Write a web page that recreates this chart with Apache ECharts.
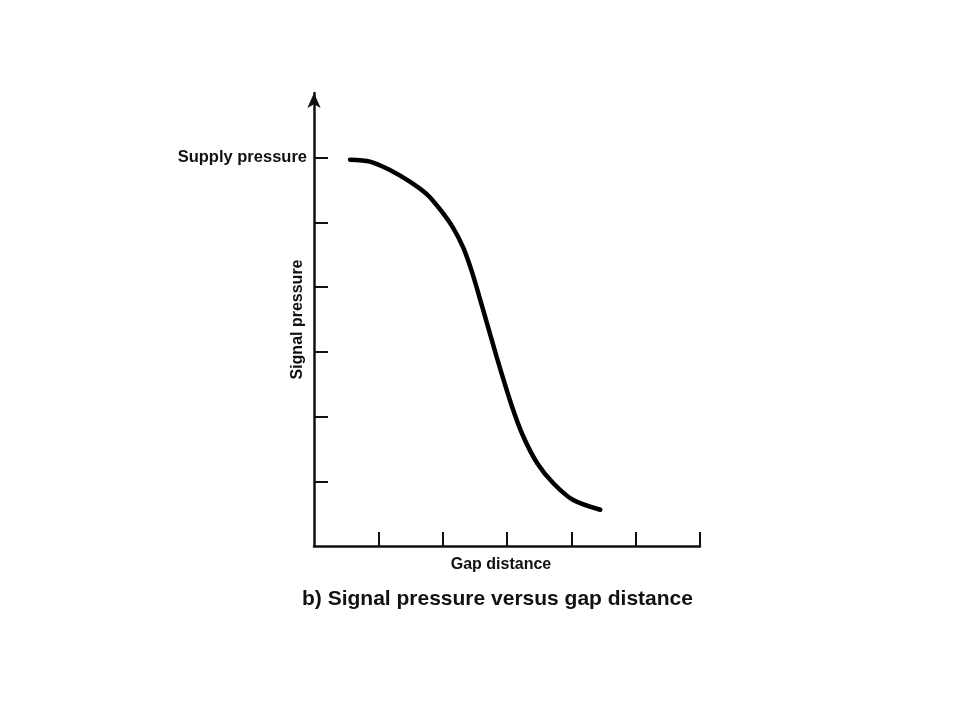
<!DOCTYPE html>
<html>
<head>
<meta charset="utf-8">
<script src="https://cdn.jsdelivr.net/npm/echarts@6/dist/echarts.min.js"></script>
<style>
html,body{margin:0;padding:0;background:#fff;}
#chart{width:960px;height:720px;}
</style>
</head>
<body>
<div id="chart"></div>
<script>
// Gap distance (x) vs signal pressure (y) (axis units = tick steps)
const gapDistance = [0.56, 0.87, 1.18, 1.49, 1.76, 1.96, 2.16, 2.32, 2.46, 2.62, 2.84, 3.07, 3.25, 3.47, 3.72, 4.03, 4.45];
const signalPressure = [5.97, 5.94, 5.81, 5.63, 5.43, 5.20, 4.92, 4.61, 4.22, 3.68, 2.92, 2.18, 1.70, 1.28, 0.97, 0.71, 0.56];
const xTicks = [1, 2, 3, 4, 5, 6];
const yTicks = [1, 2, 3, 4, 5, 6];
const yLabelValues = [6];
const yLabelText = 'Supply pressure';
const xName = 'Gap distance';
const yName = 'Signal pressure';
const titleText = 'b) Signal pressure versus gap distance';

const points = gapDistance.map((x, i) => [x, signalPressure[i]]);
const font = 'Liberation Sans, Arial, Helvetica, sans-serif';

const chart = echarts.init(document.getElementById('chart'), null, {renderer: 'canvas'});
chart.setOption({
  backgroundColor: '#ffffff',
  animation: false,
  title: {
    text: titleText,
    left: 297,
    top: 584,
    textStyle: {fontFamily: font, fontSize: 21, fontWeight: 'bold', color: '#111'}
  },
  grid: {left: 314, right: 260, top: 93, bottom: 174},
  xAxis: {
    type: 'value',
    min: 0, max: 6, interval: 1,
    name: xName,
    nameLocation: 'middle',
    nameGap: 11,
    nameMoveOverlap: false,
    nameTextStyle: {fontFamily: font, fontSize: 16, fontWeight: 'bold', color: '#111', padding: [0, 12, 0, 0]},
    axisLine: {show: true, onZero: false, lineStyle: {color: '#111', width: 2.5}},
    axisTick: {show: true, inside: true, length: 14, customValues: xTicks, lineStyle: {color: '#111', width: 2}},
    axisLabel: {show: false},
    splitLine: {show: false}
  },
  yAxis: {
    type: 'value',
    min: 0, max: 7, interval: 1,
    name: yName,
    nameLocation: 'middle',
    nameGap: 8,
    nameMoveOverlap: false,
    nameTextStyle: {fontFamily: font, fontSize: 16, fontWeight: 'bold', color: '#111'},
    axisLine: {show: true, onZero: false, symbol: ['none', 'arrow'], symbolSize: [10, 15], lineStyle: {color: '#111', width: 2.5}},
    axisTick: {show: true, inside: true, length: 14, customValues: yTicks, lineStyle: {color: '#111', width: 2}},
    axisLabel: {
      show: true, margin: 7, customValues: yLabelValues,
      formatter: () => yLabelText,
      fontFamily: font, fontSize: 16.5, fontWeight: 'bold', color: '#111'
    },
    splitLine: {show: false}
  },
  series: [{
    type: 'line',
    data: points,
    smooth: 0.3,
    showSymbol: false,
    lineStyle: {color: '#000', width: 4.5, cap: 'round'}
  }]
});
</script>
</body>
</html>
